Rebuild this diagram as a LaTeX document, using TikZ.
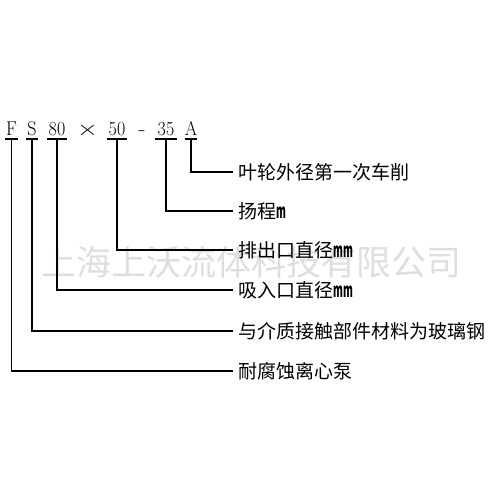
\documentclass[tikz,border=0pt]{standalone}
\usepackage{graphicx}
\usepackage{fontspec}
\newfontfamily\cjk{Noto Sans CJK SC}
\newcommand\unitm{\scalebox{0.5}[1]{\fontsize{20}{20}\selectfont\bfseries m}}
\begin{document}
\begin{tikzpicture}[x=1pt,y=-1pt,
  codepart/.style={inner xsep=0pt, inner ysep=0pt, anchor=south, text depth=3pt,
    font=\fontsize{20}{20}\selectfont},
  lbl/.style={anchor=west, inner xsep=5pt, inner ysep=0pt, text height=16.4pt, text depth=2pt,
    font=\cjk\fontsize{19}{19}\selectfont},
  conn/.style={line width=1.4pt, black},
  uline/.style={line width=1.4pt, black}]
\useasboundingbox (0,0) rectangle (500,500);
% watermark
\node[text=black!13, font=\cjk\fontsize{35}{35}\selectfont] (wm) at (251,262) {上海上沃流体科技有限公司};
% code parts
\node[codepart, minimum width=12pt] (cF) at (11.5,139) {\scalebox{0.9}[1]{F}};
\node[codepart, minimum width=12pt] (cS) at (32,139) {\scalebox{0.9}[1]{S}};
\node[codepart, minimum width=20pt] (c80) at (57,139) {\scalebox{0.9}[1]{80}};
\node[codepart] (cx) at (87.5,139) {\scalebox{1.3}[1]{$\times$}};
\node[codepart, minimum width=20pt] (c50) at (117,139) {\scalebox{0.9}[1]{50}};
\node[codepart] (cd) at (142,139) {\scalebox{1.2}[1]{-}};
\node[codepart, minimum width=22pt] (c35) at (166,139) {\scalebox{0.9}[1]{35}};
\node[codepart, minimum width=12pt] (cA) at (191,139) {\scalebox{0.9}[1]{A}};
% underlines
\foreach \n in {cF,cS,c80,c50,c35,cA}
  \draw[uline] (\n.south west) -- (\n.south east);
% labels
\node[lbl] (lA) at (233,172) {叶轮外径第一次车削};
\node[lbl] (l35) at (233,211) {扬程\unitm};
\node[lbl] (l50) at (233,250) {排出口直径\unitm\unitm};
\node[lbl] (l80) at (233,290) {吸入口直径\unitm\unitm};
\node[lbl] (lS) at (233,331) {与介质接触部件材料为玻璃钢};
\node[lbl] (lF) at (233,371) {耐腐蚀离心泵};
% connectors
\draw[conn] (cA.south) |- (lA.west);
\draw[conn] (c35.south) |- (l35.west);
\draw[conn] (c50.south) |- (l50.west);
\draw[conn] (c80.south) |- (l80.west);
\draw[conn] (cS.south) |- (lS.west);
\draw[conn] (cF.south) |- (lF.west);
\end{tikzpicture}
\end{document}
